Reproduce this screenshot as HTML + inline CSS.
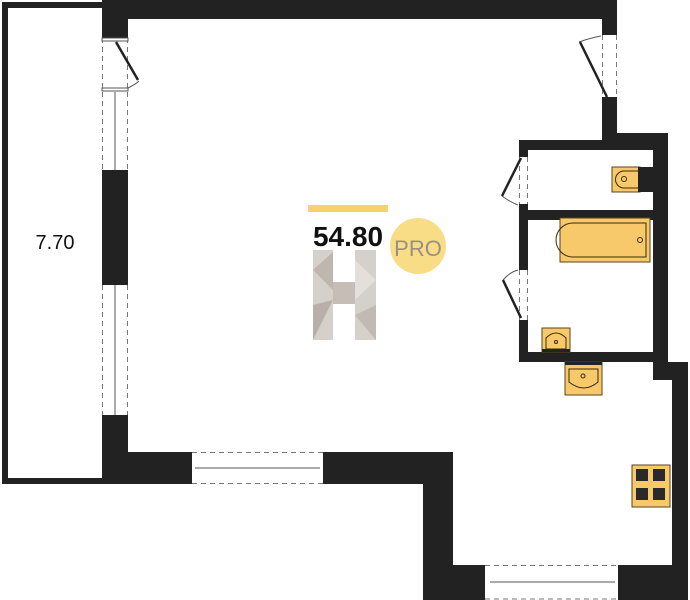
<!DOCTYPE html>
<html><head><style>body{margin:0;background:#fff}svg{display:block}</style></head><body>
<svg width="690" height="600" viewBox="0 0 690 600" xmlns="http://www.w3.org/2000/svg">
<rect width="690" height="600" fill="#fff"/>
<g fill="#222">
<rect x="2" y="2" width="102" height="6"/>
<rect x="2" y="2" width="6" height="482"/>
<rect x="2" y="478" width="110" height="6"/>
<rect x="102" y="0" width="515" height="19"/>
<rect x="102" y="0" width="26" height="38"/>
<rect x="102" y="170" width="26" height="115"/>
<rect x="102" y="415" width="26" height="69"/>
<rect x="102" y="452" width="90" height="32"/>
<rect x="323" y="452" width="130" height="32"/>
<rect x="423" y="452" width="30" height="148"/>
<rect x="423" y="565" width="62" height="35"/>
<rect x="618" y="565" width="70" height="35"/>
<rect x="672" y="362" width="16" height="238"/>
<rect x="653" y="362" width="35" height="18"/>
<rect x="653" y="133" width="15" height="247"/>
<rect x="602" y="0" width="15" height="35"/>
<rect x="602" y="97" width="15" height="53"/>
<rect x="602" y="133" width="66" height="17"/>
<rect x="519" y="140" width="134" height="10"/>
<rect x="519" y="140" width="9" height="17"/>
<rect x="519" y="204" width="9" height="66"/>
<rect x="519" y="320" width="9" height="42"/>
<rect x="519" y="210" width="134" height="10"/>
<rect x="519" y="352" width="134" height="10"/>
</g>
<g stroke="#777" stroke-width="1" stroke-dasharray="5,4" fill="none">
<line x1="102.5" y1="38" x2="102.5" y2="170"/><line x1="127.5" y1="38" x2="127.5" y2="170"/>
<line x1="102.5" y1="285" x2="102.5" y2="415"/><line x1="127.5" y1="285" x2="127.5" y2="415"/>
<line x1="192" y1="452.5" x2="323" y2="452.5"/><line x1="192" y1="483.5" x2="323" y2="483.5"/>
<line x1="485" y1="565.5" x2="618" y2="565.5"/><line x1="485" y1="599" x2="618" y2="599"/>
<line x1="602.5" y1="35" x2="602.5" y2="97"/><line x1="616.5" y1="35" x2="616.5" y2="97"/>
<line x1="519.5" y1="157" x2="519.5" y2="204"/><line x1="527.5" y1="157" x2="527.5" y2="204"/>
<line x1="519.5" y1="270" x2="519.5" y2="320"/><line x1="527.5" y1="270" x2="527.5" y2="320"/>
</g>
<g stroke="#555" stroke-width="1" fill="none">
<line x1="115" y1="92" x2="115" y2="170"/>
<line x1="115" y1="285" x2="115" y2="415"/>
<line x1="195" y1="468" x2="320" y2="468"/>
<line x1="490" y1="582" x2="615" y2="582"/>
<rect x="102" y="38" width="26" height="3" fill="#fff"/>
<rect x="102" y="88" width="26" height="3" fill="#fff"/>
<path d="M128 88 Q136 84 139 81"/>
<path d="M601 36 Q590 38 579 42"/>
<path d="M518 205 Q510 202 502 196"/>
<path d="M518 270 Q510 272 503 280"/>
</g>
<g stroke="#222" stroke-width="2.5" fill="none">
<line x1="116" y1="42" x2="138" y2="80"/>
<line x1="580" y1="42" x2="607" y2="97"/>
<line x1="521" y1="158" x2="502" y2="196"/>
<line x1="503" y1="280" x2="521" y2="318"/>
</g>
<g fill="#f8c96a" stroke="#5a4418" stroke-width="1">
<rect x="612" y="167" width="28" height="25"/>
<rect x="560" y="218" width="90" height="44"/>
<rect x="542" y="328" width="28" height="24"/>
<rect x="565" y="362" width="37" height="33"/>
<rect x="632" y="465" width="38" height="42"/>
</g>
<rect x="638" y="167" width="15" height="25" fill="#222"/>
<g fill="none" stroke="#3a2a08" stroke-width="1">
<path d="M638 171 H624 A8 8 0 0 0 624 188 H638"/><circle cx="624" cy="179" r="2.5"/>
<path d="M646 223 H573 A13 13 0 0 0 573 257 H646 Z"/><circle cx="640" cy="240" r="2.5"/>
<path d="M546 349 V338 Q556 328 566 338 V349 Z"/><circle cx="556" cy="342" r="1.5"/>
<path d="M569 369 H598 V382 Q584 394 569 382 Z"/><circle cx="583" cy="376" r="2"/>
</g>
<rect x="565" y="362" width="37" height="3" fill="#222"/>
<rect x="542" y="349" width="28" height="3" fill="#222"/>
<g fill="#2a2a2a">
<rect x="636" y="469" width="12" height="12"/><rect x="653" y="469" width="12" height="12"/>
<rect x="636" y="488" width="12" height="12"/><rect x="653" y="488" width="12" height="12"/>
</g>
<rect x="308" y="205" width="80" height="7" fill="#f6d26e"/>
<text x="348" y="246" font-family="Liberation Sans, sans-serif" font-weight="bold" font-size="28" text-anchor="middle" fill="#111">54.80</text>
<circle cx="418" cy="246" r="28" fill="#f9dc86"/>
<text x="418" y="256" font-family="Liberation Sans, sans-serif" font-size="22" text-anchor="middle" fill="#9a9080">PRO</text>
<g>
<rect x="313" y="250" width="20" height="90" fill="#d6d0ca"/>
<rect x="355" y="250" width="21" height="90" fill="#d6d0ca"/>
<rect x="333" y="282" width="22" height="22" fill="#c6beb6"/>
<polygon points="313,270 333,252 333,290" fill="#bfb7ae"/>
<polygon points="355,260 376,280 355,300" fill="#e4dfda"/>
<polygon points="313,305 333,300 313,340" fill="#b8b0a8"/>
<polygon points="355,315 376,305 376,340" fill="#c2bab2"/>
</g>
<text x="55" y="249" font-family="Liberation Sans, sans-serif" font-size="20" text-anchor="middle" fill="#111">7.70</text>
</svg>
</body></html>
